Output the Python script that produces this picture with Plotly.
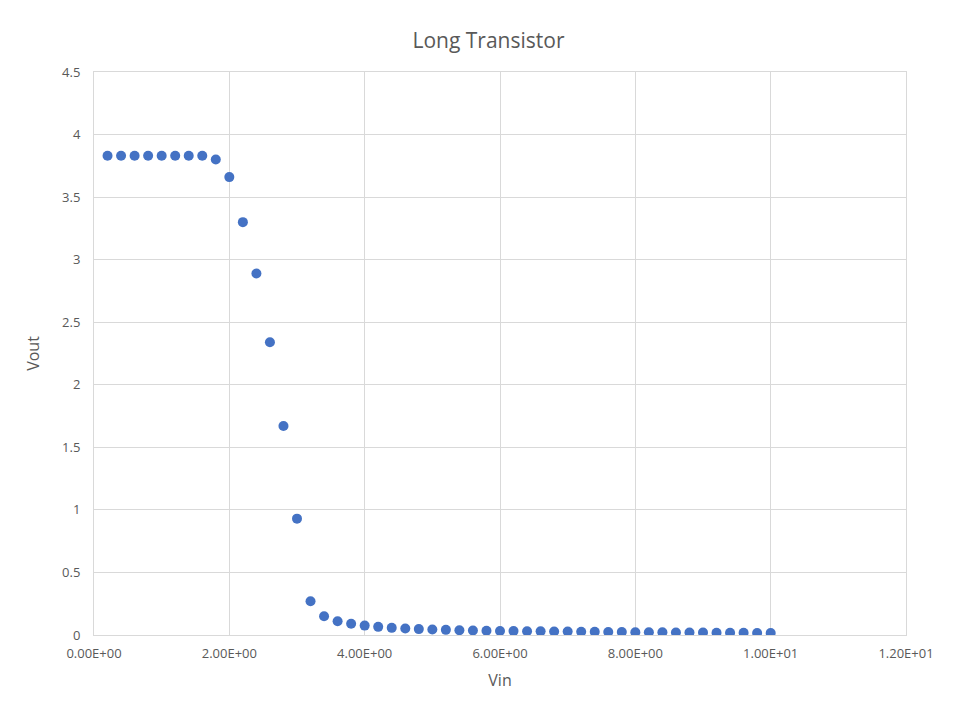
import plotly.graph_objects as go

# Vin sweep and measured Vout
vin = [0.2, 0.4, 0.6, 0.8, 1.0, 1.2, 1.4, 1.6, 1.8, 2.0,
       2.2, 2.4, 2.6, 2.8, 3.0, 3.2, 3.4, 3.6, 3.8, 4.0,
       4.2, 4.4, 4.6, 4.8, 5.0, 5.2, 5.4, 5.6, 5.8, 6.0,
       6.2, 6.4, 6.6, 6.8, 7.0, 7.2, 7.4, 7.6, 7.8, 8.0,
       8.2, 8.4, 8.6, 8.8, 9.0, 9.2, 9.4, 9.6, 9.8, 10.0]
vout = [3.83, 3.83, 3.83, 3.83, 3.83, 3.83, 3.83, 3.83, 3.80, 3.66,
        3.30, 2.89, 2.34, 1.67, 0.93, 0.27, 0.15, 0.11, 0.09, 0.075,
        0.065, 0.057, 0.052, 0.047, 0.044, 0.041, 0.038, 0.036, 0.034, 0.032,
        0.031, 0.030, 0.029, 0.028, 0.027, 0.026, 0.025, 0.024, 0.023, 0.022,
        0.022, 0.021, 0.020, 0.020, 0.019, 0.018, 0.018, 0.017, 0.016, 0.015]

x_ticks = [0, 2, 4, 6, 8, 10, 12]
x_labels = ['0.00E+00', '2.00E+00', '4.00E+00', '6.00E+00', '8.00E+00', '1.00E+01', '1.20E+01']
y_ticks = [0, 0.5, 1, 1.5, 2, 2.5, 3, 3.5, 4, 4.5]

fig = go.Figure(go.Scatter(
    x=vin, y=vout, mode='markers',
    marker=dict(color='#4472C4', size=10)
))

grid = '#d9d9d9'
fig.update_layout(
    width=961, height=724,
    margin=dict(l=86, r=63, t=64, b=97, autoexpand=False),
    paper_bgcolor='white', plot_bgcolor='white',
    font=dict(family='Open Sans, Liberation Sans, sans-serif', color='#595959', size=13),
    title=dict(text='Long Transistor', x=0.5, xanchor='center', y=0.965,
               font=dict(size=21, color='#595959')),
    showlegend=False,
    xaxis=dict(range=[0, 12], tickvals=x_ticks, ticktext=x_labels,
               showgrid=True, gridcolor=grid, zeroline=False,
               showline=True, linecolor=grid, mirror=True,
               ticklabelstandoff=6,
               title=dict(text='Vin', font=dict(size=16), standoff=14)),
    yaxis=dict(range=[0, 4.5], tickvals=y_ticks,
               showgrid=True, gridcolor=grid, zeroline=False,
               showline=True, linecolor=grid, mirror=True,
               ticklabelstandoff=10,
               title=dict(text='Vout', font=dict(size=16), standoff=18)),
)

fig.write_html('out.html')
